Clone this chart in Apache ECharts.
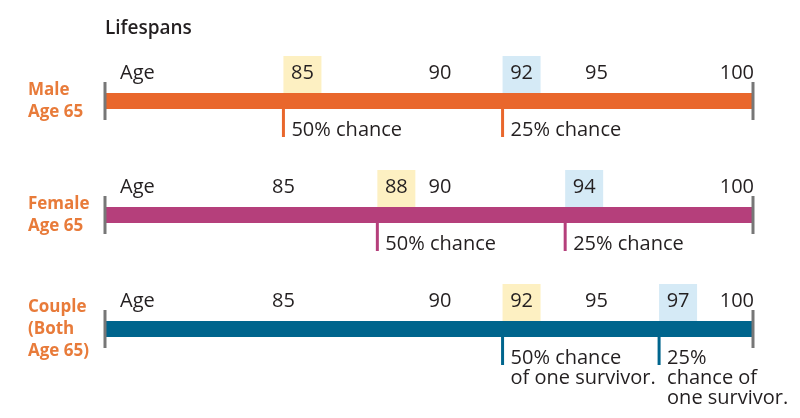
<!DOCTYPE html>
<html>
<head>
<meta charset="utf-8">
<script src="https://cdn.jsdelivr.net/npm/echarts@6/dist/echarts.min.js"></script>
<style>html,body{margin:0;padding:0;background:#fff;}#c{width:800px;height:418px;}</style>
</head>
<body>
<div id="c"></div>
<script>
// ---- data ----
const rowLabels = ['Male\nAge 65', 'Female\nAge 65', 'Couple\n(Both\nAge 65)'];
const barStart = 79.3;
const barEnd = 100;
const maleTicks = [90, 95, 100];
const femaleTicks = [85, 90, 100];
const coupleTicks = [85, 90, 95, 100];
const maleMarks = [85, 92];
const femaleMarks = [88, 94];
const coupleMarks = [92, 97];
const markKinds = ['50%', '25%'];
const maleNotes = ['50% chance', '25% chance'];
const femaleNotes = ['50% chance', '25% chance'];
const coupleNotes = ['50% chance\nof one survivor.', '25%\nchance of\none survivor.'];

// ---- styles ----
const FONT = 'Open Sans';
const TXT = '#231f20';
const FS = 20;
const barColors = ['#e9672c', '#b53f7b', '#00658d'];
const boxColors = { '50%': '#fdf0c2', '25%': '#d5eaf6' };
const labelColor = '#e87b3a';

const tickList = [maleTicks, femaleTicks, coupleTicks];
const markArr = [maleMarks, femaleMarks, coupleMarks];
const noteArr = [maleNotes, femaleNotes, coupleNotes];

const tickData = [];
tickList.forEach((t, r) => t.forEach(v => tickData.push([v, r])));
const markList = [];
markArr.forEach((m, r) => m.forEach((v, k) => markList.push({ v: v, row: r, kind: markKinds[k], note: noteArr[r][k] })));

const chart = echarts.init(document.getElementById('c'));
chart.setOption({
  animation: false,
  title: {
    text: 'Lifespans', left: 100, top: 14,
    textStyle: { fontFamily: FONT, fontSize: 19, fontWeight: 600, color: TXT }
  },
  grid: { left: 105, right: 47, top: 44, height: 342 },
  xAxis: { type: 'value', min: barStart, max: barEnd, show: false },
  yAxis: {
    type: 'category', data: rowLabels, inverse: true,
    axisLine: { show: false }, axisTick: { show: false }, splitLine: { show: false },
    axisLabel: {
      align: 'left', margin: 77, fontFamily: FONT, fontSize: 17, fontWeight: 'bold',
      lineHeight: 22, color: labelColor
    }
  },
  series: [
    {
      type: 'custom',
      data: rowLabels.map((r, i) => [barStart, barEnd, i]),
      encode: { x: [0, 1], y: 2 },
      renderItem: function (params, api) {
        const p0 = api.coord([api.value(0), api.value(2)]);
        const p1 = api.coord([api.value(1), api.value(2)]);
        const c = barColors[params.dataIndex];
        return {
          type: 'group', children: [
            { type: 'rect', shape: { x: p0[0], y: p0[1] - 8, width: p1[0] - p0[0], height: 16 }, style: { fill: c } },
            { type: 'rect', shape: { x: p0[0] - 1.5, y: p0[1] - 19, width: 3, height: 38 }, style: { fill: '#777' } },
            { type: 'rect', shape: { x: p1[0] - 1.5, y: p0[1] - 19, width: 3, height: 38 }, style: { fill: '#777' } },
            { type: 'text', style: { text: 'Age', x: p0[0] + 15, y: p0[1] - 28, align: 'left', verticalAlign: 'middle', fontFamily: FONT, fontSize: FS, fill: TXT } }
          ]
        };
      }
    },
    {
      type: 'custom',
      data: tickData,
      encode: { x: 0, y: 1 },
      renderItem: function (params, api) {
        const v = api.value(0);
        const p = api.coord([v, api.value(1)]);
        const isEnd = v === barEnd;
        return {
          type: 'text',
          style: { text: String(v), x: isEnd ? p[0] + 1 : p[0], y: p[1] - 28, align: isEnd ? 'right' : 'center', verticalAlign: 'middle', fontFamily: FONT, fontSize: FS, fill: TXT }
        };
      }
    },
    {
      type: 'custom',
      data: markList.map(m => [m.v, m.row]),
      encode: { x: 0, y: 1 },
      renderItem: function (params, api) {
        const m = markList[params.dataIndex];
        const p = api.coord([api.value(0), api.value(1)]);
        const c = barColors[m.row];
        return {
          type: 'group', children: [
            { type: 'rect', shape: { x: p[0], y: p[1] - 8 - 37, width: 38, height: 37 }, style: { fill: boxColors[m.kind] } },
            { type: 'text', style: { text: String(m.v), x: p[0] + 19, y: p[1] - 28, align: 'center', verticalAlign: 'middle', fontFamily: FONT, fontSize: FS, fill: TXT } },
            { type: 'rect', shape: { x: p[0] - 1.5, y: p[1] + 8, width: 3, height: 28 }, style: { fill: c } },
            { type: 'text', style: { text: m.note, x: p[0] + 8, y: p[1] + 19, align: 'left', verticalAlign: 'top', lineHeight: 20, fontFamily: FONT, fontSize: FS, fill: TXT } }
          ]
        };
      }
    }
  ]
});
</script>
</body>
</html>
